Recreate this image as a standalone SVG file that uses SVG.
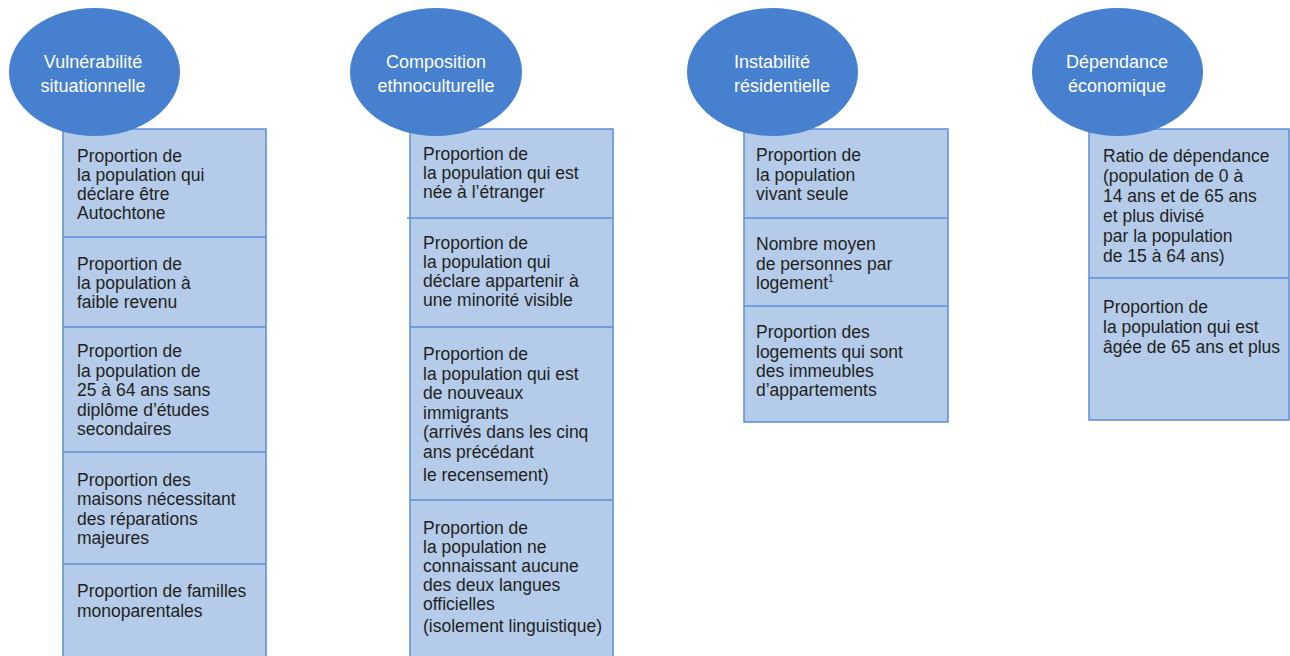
<svg xmlns="http://www.w3.org/2000/svg" width="1290" height="656" viewBox="0 0 1290 656">
<style>
.box{fill:#b4ccea;stroke:#5b8fd6;stroke-width:1.5}
.div{stroke:#5b8fd6;stroke-width:1.5}
.ell{fill:#4680ce}
.h{font-family:"Liberation Sans",Arial,sans-serif;font-size:18px;fill:#ffffff;text-anchor:middle}
.t{font-family:"Liberation Sans",Arial,sans-serif;font-size:17.5px;fill:#231f20}
</style>
<rect width="1290" height="656" fill="#ffffff"/>
<g id="connectors"/>
<g id="col1">
<rect class="box" x="63" y="129" width="203" height="540"/>
<line class="div" x1="63" y1="237" x2="266" y2="237"/>
<line class="div" x1="63" y1="327" x2="266" y2="327"/>
<line class="div" x1="63" y1="452" x2="266" y2="452"/>
<line class="div" x1="63" y1="564" x2="266" y2="564"/>
<text class="t" x="77" y="162">Proportion de</text>
<text class="t" x="77" y="181">la population qui</text>
<text class="t" x="77" y="200">déclare être</text>
<text class="t" x="77" y="219">Autochtone</text>
<text class="t" x="77" y="270">Proportion de</text>
<text class="t" x="77" y="289">la population à</text>
<text class="t" x="77" y="308">faible revenu</text>
<text class="t" x="77" y="357">Proportion de</text>
<text class="t" x="77" y="376.5">la population de</text>
<text class="t" x="77" y="396">25 à 64 ans sans</text>
<text class="t" x="77" y="415.5">diplôme d’études</text>
<text class="t" x="77" y="435">secondaires</text>
<text class="t" x="77" y="486">Proportion des</text>
<text class="t" x="77" y="505">maisons nécessitant</text>
<text class="t" x="77" y="524.5">des réparations</text>
<text class="t" x="77" y="544">majeures</text>
<text class="t" x="77" y="597">Proportion de familles</text>
<text class="t" x="77" y="617">monoparentales</text>
</g>
<g id="head1">
<ellipse class="ell" cx="94.5" cy="72" rx="85.5" ry="64"/>
<text class="h" x="93" y="68">Vulnérabilité</text>
<text class="h" x="93" y="92">situationnelle</text>
</g>
<g id="col2">
<rect class="box" x="410" y="129" width="203" height="540"/>
<line class="div" x1="407" y1="218" x2="613" y2="218"/>
<line class="div" x1="410" y1="327" x2="613" y2="327"/>
<line class="div" x1="410" y1="500" x2="613" y2="500"/>
<text class="t" x="423" y="160">Proportion de</text>
<text class="t" x="423" y="179">la population qui est</text>
<text class="t" x="423" y="198">née à l’étranger</text>
<text class="t" x="423" y="249">Proportion de</text>
<text class="t" x="423" y="268">la population qui</text>
<text class="t" x="423" y="287">déclare appartenir à</text>
<text class="t" x="423" y="306">une minorité visible</text>
<text class="t" x="423" y="360">Proportion de</text>
<text class="t" x="423" y="379.5">la population qui est</text>
<text class="t" x="423" y="399">de nouveaux</text>
<text class="t" x="423" y="418.5">immigrants</text>
<text class="t" x="423" y="438">(arrivés dans les cinq</text>
<text class="t" x="423" y="457.5">ans précédant</text>
<text class="t" x="423" y="481">le recensement)</text>
<text class="t" x="423" y="534">Proportion de</text>
<text class="t" x="423" y="553">la population ne</text>
<text class="t" x="423" y="572">connaissant aucune</text>
<text class="t" x="423" y="591">des deux langues</text>
<text class="t" x="423" y="610">officielles</text>
<text class="t" x="423" y="632">(isolement linguistique)</text>
</g>
<g id="head2">
<ellipse class="ell" cx="436" cy="72" rx="86" ry="64"/>
<text class="h" x="436" y="68">Composition</text>
<text class="h" x="436" y="92">ethnoculturelle</text>
</g>
<g id="col3">
<rect class="box" x="744" y="129" width="204" height="293"/>
<line class="div" x1="744" y1="218" x2="948" y2="218"/>
<line class="div" x1="744" y1="306" x2="948" y2="306"/>
<text class="t" x="756" y="161">Proportion de</text>
<text class="t" x="756" y="181">la population</text>
<text class="t" x="756" y="200">vivant seule</text>
<text class="t" x="756" y="250">Nombre moyen</text>
<text class="t" x="756" y="270">de personnes par</text>
<text class="t" x="756" y="289">logement<tspan font-size="10" dy="-7">1</tspan></text>
<text class="t" x="756" y="338">Proportion des</text>
<text class="t" x="756" y="358">logements qui sont</text>
<text class="t" x="756" y="377">des immeubles</text>
<text class="t" x="756" y="396">d’appartements</text>
</g>
<g id="head3">
<ellipse class="ell" cx="772.5" cy="72" rx="85.5" ry="64"/>
<text class="h" x="772" y="68">Instabilité</text>
<text class="h" x="782" y="92">résidentielle</text>
</g>
<g id="col4">
<rect class="box" x="1089" y="129" width="200" height="291"/>
<line class="div" x1="1089" y1="278" x2="1289" y2="278"/>
<text class="t" x="1103" y="162">Ratio de dépendance</text>
<text class="t" x="1103" y="182">(population de 0 à</text>
<text class="t" x="1103" y="202">14 ans et de 65 ans</text>
<text class="t" x="1103" y="222">et plus divisé</text>
<text class="t" x="1103" y="242">par la population</text>
<text class="t" x="1103" y="262">de 15 à 64 ans)</text>
<text class="t" x="1103" y="313">Proportion de</text>
<text class="t" x="1103" y="333">la population qui est</text>
<text class="t" x="1103" y="353">âgée de 65 ans et plus</text>
</g>
<g id="head4">
<ellipse class="ell" cx="1117.5" cy="72" rx="85.5" ry="64"/>
<text class="h" x="1117" y="68">Dépendance</text>
<text class="h" x="1117" y="92">économique</text>
</g>
</svg>
